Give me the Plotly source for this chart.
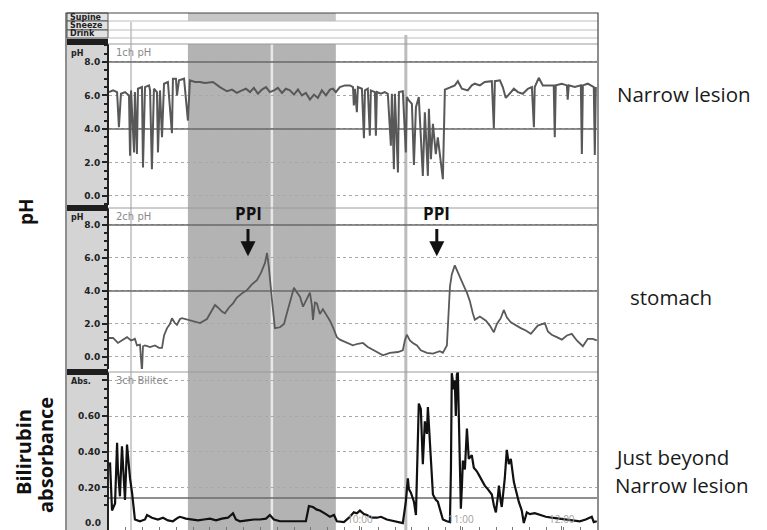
import plotly.graph_objects as go

# ---------------- data (elapsed minutes from 07:31) ----------------
ch1_t = [0, 2.4, 4.8, 5.9, 7.1, 9.5, 11.9, 12.5, 13.1, 14.9, 15.4, 16.6, 17.2, 19.6, 20.2, 21.4,
         23.8, 24.4, 25.5, 26.7, 28.5, 29.1, 30.3, 31.5, 32.7, 35.0, 37.4, 38.0, 39.8, 40.4, 41.6,
         44.6, 46.9, 48.1, 51.1, 54.0, 57.0, 61.8, 65.9, 70.1, 73.1, 76.0, 79.0, 81.4, 83.8, 86.1,
         88.5, 90.9, 93.3, 95.6, 98.0, 100.4, 102.8, 105.1, 107.5, 109.9, 112.3, 114.6, 117.0,
         119.4, 121.8, 124.1, 126.5, 128.9, 131.3, 133.1, 134.8, 137.2, 140.2, 143.2, 145.0, 145.5,
         146.1, 147.3, 147.9, 150.3, 151.5, 152.1, 153.8, 155.0, 155.6, 158.0, 158.6, 159.2, 161.6,
         163.9, 165.7, 167.5, 168.1, 169.3, 169.9, 171.7, 172.3, 174.6, 176.4, 177.0, 178.2, 180.0,
         181.2, 182.4, 184.1, 185.3, 186.5, 187.7, 189.5, 190.1, 191.3, 192.5, 194.2, 195.4, 198.4,
         199.6, 202.6, 205.5, 207.3, 209.7, 213.2, 215.6, 217.4, 220.4, 223.3, 227.5, 228.7, 229.3,
         232.3, 234.0, 235.8, 238.2, 240.6, 243.0, 245.9, 248.9, 251.3, 252.5, 253.0, 255.4, 257.8,
         260.8, 264.3, 264.9, 265.5, 269.1, 272.1, 272.6, 273.2, 276.8, 280.4, 281.0, 281.6, 284.5,
         288.1, 288.7, 289.3]
ch1_ph = [6.2, 6.3, 6.2, 4.1, 6.1, 6.2, 6.0, 2.4, 6.3, 2.6, 6.2, 2.5, 6.4, 6.5, 1.7, 6.5,
          6.6, 6.3, 1.6, 6.4, 6.2, 2.6, 6.3, 3.5, 6.7, 6.8, 3.75, 7.0, 7.0, 6.0, 6.9,
          7.0, 4.5, 6.9, 6.8, 6.8, 6.75, 6.8, 6.5, 6.25, 6.35, 6.15, 6.3, 6.4, 6.2, 6.45,
          6.1, 6.35, 6.5, 6.2, 6.3, 6.45, 6.15, 6.4, 6.3, 6.05, 6.35, 6.0, 6.15,
          5.75, 6.05, 5.85, 6.3, 6.0, 6.35, 6.4, 6.2, 6.5, 6.6, 6.6, 6.5, 5.4,
          6.4, 5.0, 6.5, 6.4, 3.45, 6.3, 6.4, 3.6, 6.3, 6.2, 3.6, 6.2, 6.1,
          6.2, 6.1, 3.0, 6.1, 1.6, 6.1, 1.4, 6.2, 6.25, 2.6, 5.9, 5.7, 5.5,
          1.85, 5.3, 5.9, 3.5, 1.2, 5.0, 1.2, 5.2, 2.2, 4.3, 2.5, 3.5, 1.0,
          6.35, 6.5, 6.6, 6.85, 6.4, 6.3, 6.6, 6.7, 6.6, 6.8, 6.85, 4.05, 6.85,
          6.9, 6.5, 5.85, 6.1, 6.4, 6.2, 6.1, 6.4, 6.5, 4.1, 6.5, 7.05, 6.6,
          6.6, 6.6, 3.5, 6.6, 6.7, 6.6, 5.75, 6.6, 6.5, 6.6, 2.5, 6.6, 6.7,
          6.5, 2.45, 6.5]

ch2_t = [0, 2.4, 5.3, 7.7, 10.7, 13.1, 15.4, 16.6, 18.4, 19.6, 20.2, 21.4, 24.4, 27.3, 29.7,
         31.5, 32.7, 34.5, 36.2, 37.4, 39.2, 40.4, 42.2, 43.4, 46.9, 49.9, 54.1, 58.2, 60.6, 63.0,
         64.7, 67.1, 68.9, 71.3, 73.7, 76.0, 79.6, 82.0, 84.9, 87.9, 90.3, 92.7, 93.9, 94.4, 95.0,
         96.8, 98.6, 101.6, 104.0, 105.7, 108.1, 109.9, 111.1, 113.5, 115.3, 117.6, 119.4, 120.6,
         121.2, 122.4, 123.5, 125.3, 127.1, 129.5, 131.3, 133.1, 135.4, 137.2, 140.8, 144.9, 147.9,
         150.9, 153.8, 158.0, 162.8, 166.9, 171.7, 174.6, 175.8, 177.0, 178.8, 180.6, 183.0, 185.3,
         188.9, 192.5, 196.6, 198.4, 200.8, 202.6, 203.7, 205.5, 207.3, 208.5, 210.9, 212.7, 214.4,
         216.2, 217.4, 220.4, 224.0, 226.3, 228.7, 230.5, 232.8, 234.6, 236.4, 238.8, 241.8, 244.7,
         247.7, 250.7, 254.8, 259.0, 260.8, 263.1, 266.1, 269.1, 272.1, 275.0, 278.0, 281.6, 284.5,
         287.5, 289.9]
ch2_ph = [1.15, 1.15, 0.85, 1.0, 1.2, 1.0, 1.1, 0.7, 0.75, -0.9, 0.65, 0.7, 0.6, 0.7, 0.55,
          0.55, 1.3, 1.75, 2.0, 2.35, 2.05, 1.95, 2.3, 2.35, 2.25, 2.2, 2.05, 2.3, 2.7, 3.15,
          3.0, 2.75, 2.65, 3.0, 3.25, 3.6, 3.9, 4.05, 4.4, 4.65, 5.1, 5.7, 6.3, 6.0, 5.45,
          3.5, 1.75, 1.8, 2.0, 2.65, 3.6, 4.2, 4.0, 3.65, 3.05, 3.5, 3.9, 3.1,
          2.25, 3.3, 3.25, 2.6, 2.9, 2.5, 2.2, 1.8, 1.2, 1.05, 0.9, 0.7, 0.8,
          0.85, 0.6, 0.35, 0.1, 0.25, 0.3, 0.4, 1.0, 1.35, 1.0, 0.85, 0.7, 0.4,
          0.25, 0.2, 0.35, 0.25, 0.7, 4.25, 5.0, 5.55, 5.1, 4.85, 4.3, 3.9, 3.4,
          2.65, 2.25, 2.45, 2.2, 1.9, 1.5, 2.0, 2.35, 2.85, 2.4, 2.1, 1.9, 1.75,
          1.6, 1.4, 1.9, 2.05, 1.55, 1.35, 1.2, 1.05, 1.3, 1.4, 1.0, 0.65, 1.1,
          1.1, 1.0]

ch3_t = [0.6, 1.8, 3.6, 4.8, 5.3, 6.5, 7.7, 8.9, 9.5, 10.7, 11.3, 12.5, 13.7, 15.4, 18.4, 21.4,
         22.6, 25.5, 29.1, 32.1, 35.0, 38.0, 41.0, 42.2, 45.7, 49.3, 52.9, 56.4, 60.0, 63.6, 67.1,
         70.7, 73.7, 75.4, 77.8, 82.0, 86.1, 89.7, 93.3, 95.6, 98.0, 101.6, 107.5, 113.5, 117.0,
         118.8, 121.2, 123.5, 125.3, 128.9, 131.3, 133.7, 135.4, 139.6, 142.6, 145.5, 147.3, 149.1,
         151.5, 153.3, 156.2, 159.2, 161.6, 165.1, 169.3, 172.9, 174.6, 176.4, 177.6, 178.2, 179.4,
         181.2, 182.4, 183.5, 184.1, 185.3, 185.9, 186.5, 187.7, 188.9, 189.5, 190.1, 191.3, 192.5,
         194.2, 195.4, 197.2, 198.4, 200.8, 202.6, 203.2, 203.7, 204.9, 205.5, 206.1, 206.7, 207.3,
         207.9, 208.5, 209.1, 209.7, 210.3, 211.5, 212.7, 213.8, 215.6, 216.8, 218.6, 219.8, 221.6,
         223.3, 225.1, 227.5, 228.7, 229.9, 231.1, 231.7, 232.8, 233.4, 235.2, 236.4, 237.6, 238.8,
         240.6, 242.4, 243.5, 245.3, 246.5, 248.3, 250.1, 253.0, 256.0, 259.6, 263.1, 266.7, 271.5,
         275.6, 279.8, 283.3, 286.9, 288.1, 289.9]
ch3_abs = [0.34, 0.07, 0.11, 0.45, 0.30, 0.15, 0.43, 0.20, 0.13, 0.44, 0.37, 0.25, 0.17, 0.02, 0.01, 0.02,
           0.045, 0.03, 0.02, 0.03, 0.015, 0.01, 0.03, 0.035, 0.025, 0.02, 0.015, 0.02, 0.025, 0.015, 0.025,
           0.03, 0.055, 0.02, 0.01, 0.015, 0.02, 0.02, 0.025, 0.045, 0.02, 0.01, 0.01, 0.01, 0.01,
           0.095, 0.09, 0.075, 0.07, 0.05, 0.035, 0.045, 0.01, 0.005, 0.03, 0.06, 0.055, 0.07,
           0.05, 0.045, 0.03, 0.03, 0.035, 0.02, 0.01, 0.005, 0.0, 0.12, 0.25, 0.19, 0.17,
           0.12, 0.045, 0.45, 0.67, 0.64, 0.45, 0.33, 0.57, 0.50, 0.65, 0.55, 0.42, 0.16,
           0.13, 0.12, 0.06, 0.02, 0.01, 0.005, 0.30, 0.84, 0.75, 0.80, 0.60, 0.83, 0.85,
           0.53, 0.30, 0.08, 0.20, 0.35, 0.30, 0.53, 0.36, 0.38, 0.31, 0.29, 0.27, 0.24,
           0.21, 0.19, 0.16, 0.10, 0.06, 0.15, 0.21, 0.12, 0.09, 0.25, 0.41, 0.33, 0.36,
           0.23, 0.15, 0.12, 0.07, 0.0, 0.06, 0.05, 0.055, 0.045, 0.035, 0.03, 0.025, 0.02,
           0.015, 0.01, 0.02, 0.035, 0.005, 0.01]

supine_period = [46.9, 134.8]
event_times = [13.1, 96.8, 176.4]
ppi_times = [82.6, 194.8]
hour_ticks = [149.1, 209.1, 269.1]
hour_labels = ["10:00", "11:00", "12:00"]
ph_ticks = [0, 2, 4, 6, 8]
ph_labels = ["0.0", "2.0", "4.0", "6.0", "8.0"]
abs_ticks = [0, 0.2, 0.4, 0.6, 0.8]
abs_labels = ["", "0.20", "0.40", "0.60", ""]
abs_zero_label = "0.0"
row_labels = ["Supine", "Sneeze", "Drink"]
channel_labels = ["1ch pH", "2ch pH", "3ch Bilitec"]
site_labels = ["Narrow lesion", "stomach", "Just beyond", "Narrow lesion"]

# ---------------- layout helpers ----------------
# the page body has an 8px margin, so the figure is drawn 8px in from the window corner
OFF = 8
W, H = 767 - OFF, 530 - OFF
def PX(x): return (x - OFF) / W
def PY(y): return 1 - (y - OFF) / H
FONT = "Open Sans"
XMAX = 290

fig = go.Figure()
fig.add_trace(go.Scatter(x=ch1_t, y=ch1_ph, mode="lines", xaxis="x", yaxis="y",
                         line=dict(color="#585858", width=2), hoverinfo="skip"))
fig.add_trace(go.Scatter(x=ch2_t, y=ch2_ph, mode="lines", xaxis="x", yaxis="y2",
                         line=dict(color="#5a5a5a", width=1.8), hoverinfo="skip"))
fig.add_trace(go.Scatter(x=ch3_t, y=ch3_abs, mode="lines", xaxis="x", yaxis="y3",
                         line=dict(color="#111111", width=2.2), hoverinfo="skip"))

def yax(dom, rng, tv, tt, minor_dt):
    return dict(domain=dom, range=rng, anchor="x", tickvals=tv, ticktext=tt,
                ticks="outside", ticklen=5, tickwidth=1.5, tickcolor="#222",
                showline=True, linecolor="#222", linewidth=2,
                showgrid=True, gridcolor="#a8a8a8", griddash="dot", gridwidth=1,
                zeroline=False, fixedrange=True,
                tickfont=dict(size=9, color="#222", family="DejaVu Sans", weight="bold"),
                minor=dict(dtick=minor_dt, ticks="outside", ticklen=3, tickcolor="#222",
                           showgrid=False))

fig.update_layout(
    width=W, height=H, margin=dict(l=0, r=0, t=0, b=0),
    paper_bgcolor="white", plot_bgcolor="white", showlegend=False,
    font=dict(family=FONT),
    xaxis=dict(domain=[PX(109), PX(597)], range=[0, XMAX], anchor="y3",
               tickvals=hour_ticks, ticktext=hour_labels, ticks="inside", ticklen=4,
               tickcolor="#777", ticklabelposition="inside",
               tickfont=dict(size=10, color="#a0a0a0"), showgrid=False, zeroline=False,
               showline=False, minor=dict(ticks="inside", dtick=10, ticklen=3, tickcolor="#777")),
    yaxis=yax([PY(205), PY(44)], [-0.54, 9.07], ph_ticks, ph_labels, 0.5),
    yaxis2=yax([PY(369), PY(208)], [-0.73, 9.03], ph_ticks, ph_labels, 0.5),
    yaxis3=yax([0, PY(372)], [-0.039, 0.847], abs_ticks, abs_labels, 0.05),
)

shapes = []
# left label column
shapes.append(dict(type="rect", xref="paper", yref="paper", x0=PX(67), x1=PX(108),
                   y0=PY(530), y1=PY(13), fillcolor="#d4d4d4", line=dict(width=0), layer="below"))
# shaded supine period
shapes.append(dict(type="rect", xref="x", yref="paper", x0=supine_period[0], x1=supine_period[1],
                   y0=PY(530), y1=PY(44), fillcolor="#b3b3b3", line=dict(width=0), layer="below"))
shapes.append(dict(type="rect", xref="x", yref="paper", x0=supine_period[0], x1=supine_period[1],
                   y0=PY(21), y1=PY(13), fillcolor="#c6c6c6", line=dict(width=0), layer="below"))
# top rows (event rows)
for y0, y1 in [(13, 21), (21, 30), (30, 38)]:
    shapes.append(dict(type="rect", xref="paper", yref="paper", x0=PX(67), x1=PX(108),
                       y0=PY(y1), y1=PY(y0), fillcolor="#e2e2e2", line=dict(color="#555", width=1)))
    shapes.append(dict(type="line", xref="paper", yref="paper", x0=PX(108), x1=PX(598),
                       y0=PY(y1), y1=PY(y1), line=dict(color="#bdbdbd", width=1)))
# panel separators
for yb, yl in [(39, 44), (205, 208), (369, 372)]:
    shapes.append(dict(type="rect", xref="paper", yref="paper", x0=PX(67), x1=PX(108),
                       y0=PY(yb + 6), y1=PY(yb), fillcolor="#1e1e1e", line=dict(width=0)))
    shapes.append(dict(type="line", xref="paper", yref="paper", x0=PX(108), x1=PX(598),
                       y0=PY(yl), y1=PY(yl), line=dict(color="#9a9a9a", width=1)))
# solid reference lines
for ya in ["y", "y2"]:
    for v in [8, 4]:
        shapes.append(dict(type="line", xref="x", yref=ya, x0=0, x1=XMAX, y0=v, y1=v,
                           line=dict(color="#6a6a6a", width=1.5), layer="between"))
shapes.append(dict(type="line", xref="x", yref="y3", x0=0, x1=XMAX, y0=0.14, y1=0.14,
                   line=dict(color="#6a6a6a", width=1.5), layer="between"))
# event vertical lines
ev_style = [(22, "#cdcdcd", 2), (44, "#e8e8e8", 2.5), (35, "#bcbcbc", 3)]
for t, (ytop, col, w) in zip(event_times, ev_style):
    shapes.append(dict(type="line", xref="x", yref="paper", x0=t, x1=t, y0=PY(530), y1=PY(ytop),
                       line=dict(color=col, width=w), layer="between"))
# outer frame
shapes.append(dict(type="rect", xref="paper", yref="paper", x0=PX(66), x1=PX(598),
                   y0=PY(531), y1=PY(13), line=dict(color="#444", width=1.2)))
fig.update_layout(shapes=shapes)

ann = []
def txt(x, y, s, size, color="#222", bold=False, xanchor="left", angle=0, family=FONT):
    ann.append(dict(x=PX(x), y=PY(y), xref="paper", yref="paper", text=s, showarrow=False,
                    xanchor=xanchor, yanchor="middle", textangle=angle,
                    font=dict(size=size, color=color, family=family,
                              weight="bold" if bold else "normal")))

for lab, y in zip(row_labels, [17, 25.5, 34]):
    txt(68, y, lab, 8, "#222", True, family="DejaVu Sans")
for lab, y in zip(channel_labels, [52, 216, 380]):
    txt(114, y, lab, 10, "#8a8a8a", family="DejaVu Sans")
for lab, y in zip(["pH", "pH", "Abs."], [53, 217, 381]):
    txt(69, y, lab, 8, "#222", True, family="DejaVu Sans")
# zero label of the absorbance axis (kept clear of the bottom edge)
ann.append(dict(x=PX(103), y=0, xref="paper", yref="y3", text=abs_zero_label, showarrow=False,
                xanchor="right", yanchor="middle",
                font=dict(size=9, color="#222", family="DejaVu Sans", weight="bold")))

for lab, (x, y) in zip(site_labels, [(615, 94), (628, 297), (613, 457), (613, 485)]):
    txt(x, y, lab, 20.5, "#1a1a1a")

txt(26, 212, "pH", 19, "#111", True, "center", -90)
txt(23, 452, "Bilirubin", 20, "#111", True, "center", -90)
txt(45, 455, "absorbance", 20, "#111", True, "center", -90)

for t in ppi_times:
    ann.append(dict(x=t, y=8.7, xref="x", yref="y2", text="PPI", showarrow=False,
                    xanchor="center", yanchor="middle",
                    font=dict(size=17, color="#111", family=FONT, weight="bold")))
    ann.append(dict(x=t, y=6.1, xref="x", yref="y2", ax=t, ay=7.85, axref="x", ayref="y2",
                    text="", showarrow=True, arrowhead=2, arrowsize=1, arrowwidth=3,
                    arrowcolor="#111"))
fig.update_layout(annotations=ann)

fig.write_html("out.html")
